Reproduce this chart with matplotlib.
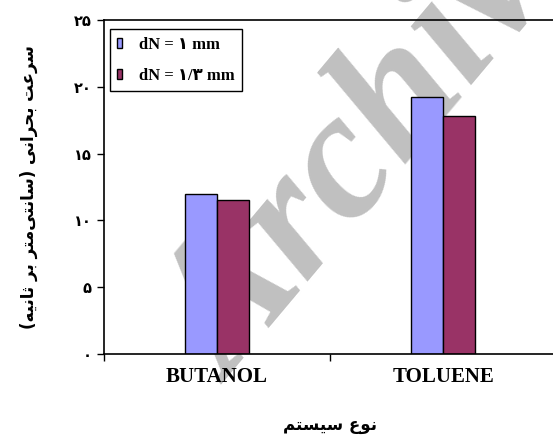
import numpy as np
import matplotlib
matplotlib.use("Agg")
import matplotlib.pyplot as plt
from matplotlib.font_manager import FontProperties

# Data
systems = ["BUTANOL", "TOLUENE"]
series_labels = ["dN = ۱ mm", "dN = ۱/۳ mm"]
speed_1mm = [12.0, 19.2]
speed_13mm = [11.5, 17.8]
ytick_values = [0, 5, 10, 15, 20, 25]
ytick_labels = ["۰", "۵", "۱۰", "۱۵", "۲۰", "۲۵"]
ylabel_text = "سرعت بحرانی (سانتی\u200cمتر بر ثانیه)"
xlabel_text = "نوع سیستم"

# Style
BLUE = "#9999FF"
MAROON = "#993366"
GRAY = "#C0C0C0"

# isolated, final, initial, medial presentation forms
FORMS = {
    "ا": ("\uFE8D", "\uFE8E", None, None),
    "ب": ("\uFE8F", "\uFE90", "\uFE91", "\uFE92"),
    "ت": ("\uFE95", "\uFE96", "\uFE97", "\uFE98"),
    "ث": ("\uFE99", "\uFE9A", "\uFE9B", "\uFE9C"),
    "ح": ("\uFEA1", "\uFEA2", "\uFEA3", "\uFEA4"),
    "ر": ("\uFEAD", "\uFEAE", None, None),
    "س": ("\uFEB1", "\uFEB2", "\uFEB3", "\uFEB4"),
    "ع": ("\uFEC9", "\uFECA", "\uFECB", "\uFECC"),
    "م": ("\uFEE1", "\uFEE2", "\uFEE3", "\uFEE4"),
    "ن": ("\uFEE5", "\uFEE6", "\uFEE7", "\uFEE8"),
    "ه": ("\uFEE9", "\uFEEA", "\uFEEB", "\uFEEC"),
    "و": ("\uFEED", "\uFEEE", None, None),
    "ی": ("\uFBFC", "\uFBFD", "\uFBFE", "\uFBFF"),
}


def fa(text):
    # crude shaping + visual reordering, matplotlib has no bidi support
    out = []
    for i, ch in enumerate(text):
        if ch not in FORMS:
            out.append(ch)
            continue
        prev = text[i - 1] if i > 0 else ""
        nxt = text[i + 1] if i + 1 < len(text) else ""
        join_prev = prev in FORMS and FORMS[prev][2] is not None
        join_next = nxt in FORMS and FORMS[ch][2] is not None
        iso, fin, ini, med = FORMS[ch]
        if join_prev and join_next:
            out.append(med)
        elif join_prev:
            out.append(fin)
        elif join_next:
            out.append(ini)
        else:
            out.append(iso)
    s = "".join(out).replace("\u200c", "")[::-1]
    return s.translate(str.maketrans("()", ")("))


serif_fp = FontProperties(family=["Liberation Serif", "DejaVu Sans"], weight="bold", size=12)

fig = plt.figure(figsize=(5.53, 4.36), dpi=100)
ax = fig.add_axes([104 / 553, 82 / 436, 452 / 553, 334 / 436])

x = np.arange(len(systems))
w = 0.142
ax.bar(x - w / 2, speed_1mm, w, color=BLUE, edgecolor="black", linewidth=1, label=series_labels[0], zorder=2)
ax.bar(x + w / 2, speed_13mm, w, color=MAROON, edgecolor="black", linewidth=1, label=series_labels[1], zorder=2)

ax.set_xlim(-0.5, 1.5)
ax.set_ylim(0, 25)

ax.set_xticks(x)
ax.set_xticklabels(systems, fontfamily="Liberation Serif", fontweight="bold", fontsize=15)
ax.set_xticks([-0.5, 0.5, 1.5], minor=True)
ax.tick_params(axis="x", which="major", length=0, pad=9)
ax.tick_params(axis="x", which="minor", length=5, width=1, direction="out")

ax.set_yticks(ytick_values)
ax.set_yticklabels(ytick_labels, fontfamily="DejaVu Sans", fontweight="bold", fontsize=10.5)
ax.tick_params(axis="y", length=5, width=1, direction="out", pad=4)

for side in ["left", "top", "bottom", "right"]:
    ax.spines[side].set_linewidth(1.2)

ax.set_ylabel(fa(ylabel_text), fontfamily="DejaVu Sans", fontweight="bold", fontsize=12, labelpad=26)
ax.set_xlabel(fa(xlabel_text), fontfamily="DejaVu Sans", fontweight="bold", fontsize=12, labelpad=21)

leg = ax.legend(loc="upper left", bbox_to_anchor=(0.013, 0.973), prop=serif_fp, frameon=True,
                fancybox=False, edgecolor="black", framealpha=1, handlelength=0.3,
                handleheight=0.55, handletextpad=1.0, labelspacing=0.9, borderpad=0.45,
                borderaxespad=0)
leg.get_frame().set_linewidth(1.0)

# watermark
ax.text(0.418, 0.117, "Archive", transform=fig.transFigure, rotation=50, rotation_mode="anchor",
        ha="left", va="baseline", fontsize=132, fontfamily="Liberation Serif", fontweight="bold",
        fontstyle="italic", color=GRAY, zorder=0.5, clip_on=False)

fig.savefig("out.png", dpi=100)
